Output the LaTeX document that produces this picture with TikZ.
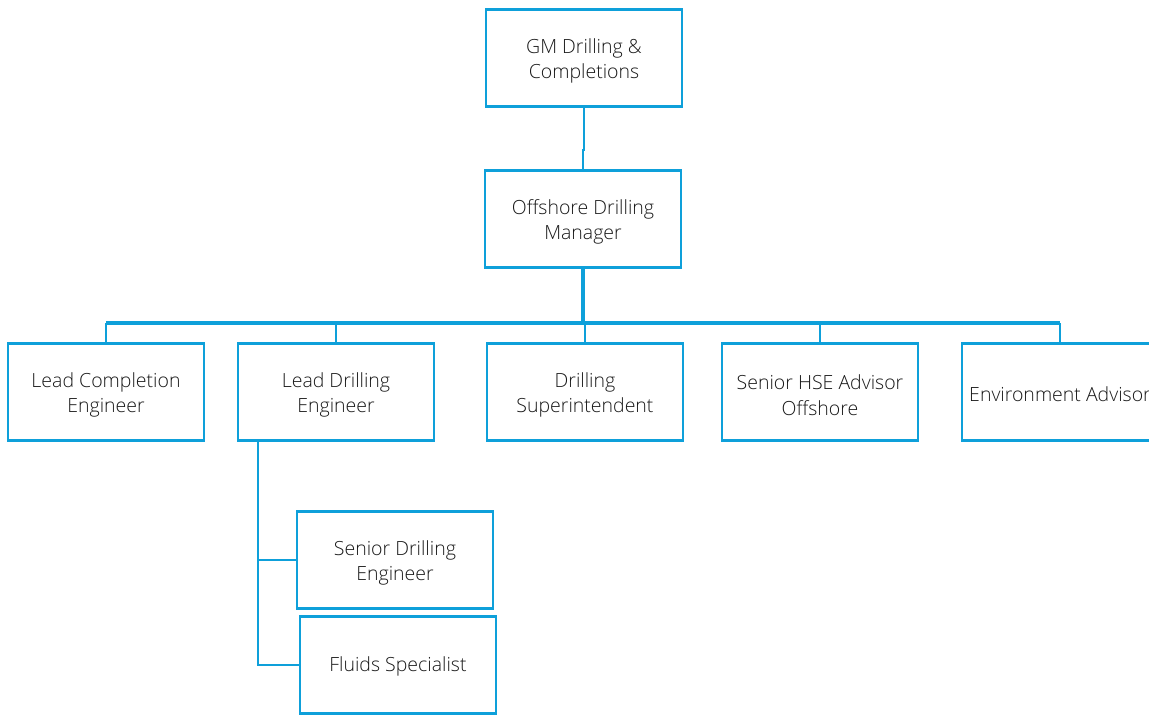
\documentclass[tikz,border=0pt]{standalone}
\usepackage{fontspec}
\setmainfont{Open Sans}[UprightFont=* Light]
\definecolor{orgblue}{RGB}{14,160,218}
\begin{document}
\begin{tikzpicture}[x=1pt,y=-1pt,
  rolebox/.style={draw=orgblue,line width=2.8pt,fill=white,minimum width=196pt,minimum height=97pt,
    align=center,inner sep=0pt,font=\fontsize{19.5}{25.5}\selectfont,text=black!90},
  % struts keep the text slightly below the box centre
  role/.style={rolebox,execute at begin node={\rule{0pt}{46.5pt}}},
  roleone/.style={rolebox,execute at begin node={\rule{0pt}{18.5pt}}},
  link/.style={draw=orgblue,line width=2.3pt},
  bus/.style={draw=orgblue,line width=3.2pt}]
\useasboundingbox (0,0) rectangle (1149,716);
\begin{scope}
\clip (0,0) rectangle (1149,716);
\coordinate (busy) at (0,323);
\coordinate (jog) at (0,150);
\coordinate (trunk) at (258,0);
% role boxes
\node[role] (gm) at (584,58) {GM Drilling \&\\Completions};
\node[role] (odm) at (583,219) {Offshore Drilling\\Manager};
\node[role] (lce) at (106,392) {Lead Completion\\Engineer};
\node[role] (lde) at (336,392) {Lead Drilling\\Engineer};
\node[role] (ds) at (585,392) {Drilling\\Superintendent};
\node[role] (hse) at (820,392) {Senior HSE Advisor\\Offshore};
\node[roleone] (env) at (1060,392) {Environment Advisor};
\node[role] (sde) at (395,560) {Senior Drilling\\Engineer};
\node[roleone] (fs) at (398,665) {Fluids Specialist};
% reporting lines
\draw[link] (gm.south) -- (gm.south |- jog) -- (odm.north |- jog) -- (odm.north);
\draw[bus] (odm.south) -- (odm.south |- busy);
\draw[bus] (lce.north |- busy) -- (env.north |- busy);
\foreach \n in {lce,lde,ds,hse,env}
  \draw[link] (\n.north |- busy) -- (\n.north);
\draw[link] (trunk |- lde.south) -- (trunk |- fs.west) -- (fs.west);
\draw[link] (trunk |- sde.west) -- (sde.west);
\end{scope}
\end{tikzpicture}
\end{document}
